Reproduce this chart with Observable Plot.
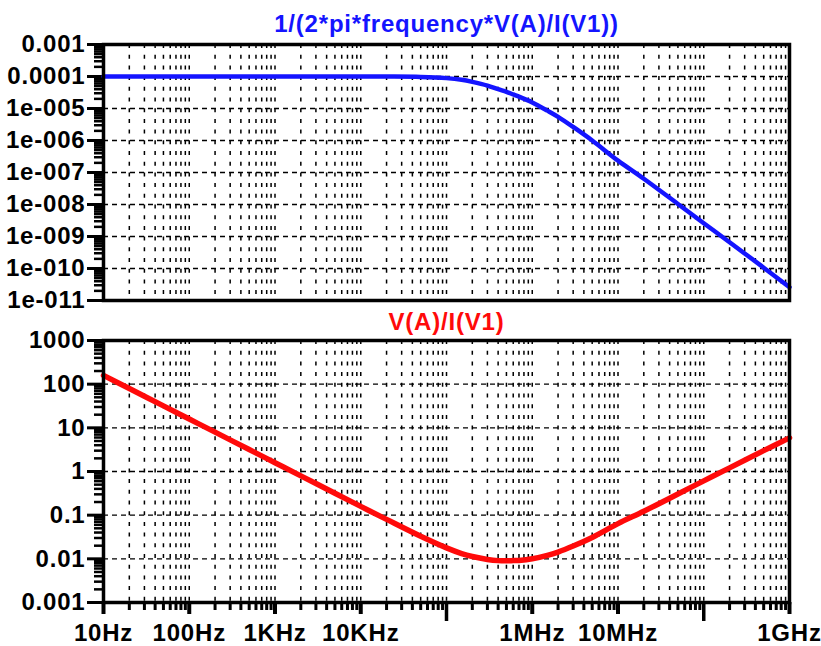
<!DOCTYPE html>
<html>
<head>
<meta charset="utf-8">
<script src="https://cdn.jsdelivr.net/npm/d3@7"></script>
<script src="https://cdn.jsdelivr.net/npm/@observablehq/plot@0.6"></script>
<style>
  html, body { margin: 0; padding: 0; background: #fff; }
  #wrap { position: relative; width: 821px; height: 646px; }
  #wrap svg { position: absolute; left: 0; top: 0; background: transparent; }
  #wrap svg text { letter-spacing: 0.8px; }
</style>
</head>
<body>
<div id="wrap"></div>
<script>
// ---- data ----
const freq = [10, 20, 50, 100, 200, 500, 1e3, 2e3, 5e3, 1e4, 2e4, 5e4, 1e5, 1.5e5, 2e5, 3e5, 4e5, 5e5, 6e5, 7e5,
              1e6, 1.5e6, 2e6, 3e6, 5e6, 1e7, 2e7, 5e7, 1e8, 2e8, 5e8, 1e9];
// V(A)/I(V1) (red, lower pane)
const impedance = [159, 79.6, 31.8, 15.9, 7.96, 3.18, 1.59, 0.796, 0.318, 0.159, 0.080, 0.0328, 0.0178, 0.0132, 0.0113,
                   0.0097, 0.0091, 0.0090, 0.0091, 0.0092, 0.0100, 0.0120, 0.0143, 0.0196, 0.0309, 0.064, 0.123, 0.305,
                   0.61, 1.21, 3.0, 5.9];
// 1/(2*pi*frequency*V(A)/I(V1)) (blue, upper pane)
const capacitance = [1.0e-4, 1.0e-4, 1.0e-4, 1.0e-4, 1.0e-4, 1.0e-4, 1.0e-4, 1.0e-4, 1.0e-4, 1.0e-4, 9.95e-5, 9.7e-5,
                     8.9e-5, 7.9e-5, 6.8e-5, 5.2e-5, 4.0e-5, 3.3e-5, 2.75e-5, 2.35e-5, 1.55e-5, 8.6e-6, 5.5e-6,
                     2.65e-6, 1.0e-6, 2.35e-7, 6.4e-8, 1.04e-8, 2.6e-9, 6.6e-10, 1.06e-10, 2.6e-11];

const topTitle = "1/(2*pi*frequency*V(A)/I(V1))";
const bottomTitle = "V(A)/I(V1)";

const topTicks = [1e-3, 1e-4, 1e-5, 1e-6, 1e-7, 1e-8, 1e-9, 1e-10, 1e-11];
const topTickLabels = ["0.001", "0.0001", "1e-005", "1e-006", "1e-007", "1e-008", "1e-009", "1e-010", "1e-011"];
const bottomTicks = [1000, 100, 10, 1, 0.1, 0.01, 0.001];
const bottomTickLabels = ["1000", "100", "10", "1", "0.1", "0.01", "0.001"];
const xTicks = [10, 100, 1e3, 1e4, 1e6, 1e7, 1e9];
const xTickLabels = ["10Hz", "100Hz", "1KHz", "10KHz", "1MHz", "10MHz", "1GHz"];
const xUnlabeled = [1e5, 1e8];

// ---- helpers ----
function minorsBetween(lo, hi) {
  const out = [];
  for (let e = Math.round(Math.log10(lo)); e < Math.round(Math.log10(hi)); e++) {
    for (let m = 2; m <= 9; m++) out.push(m * Math.pow(10, e));
  }
  return out;
}
function decadesBetween(lo, hi) {
  const out = [];
  for (let e = Math.round(Math.log10(lo)); e <= Math.round(Math.log10(hi)); e++) out.push(Math.pow(10, e));
  return out;
}
function labeler(ticks, labels) {
  return d => {
    let best = 0, bd = Infinity;
    ticks.forEach((t, i) => { const e = Math.abs(Math.log10(t) - Math.log10(d)); if (e < bd) { bd = e; best = i; } });
    return labels[best];
  };
}

const W = 821, H = 646;
const FS = 24;
const font = "'Liberation Sans', Arial, sans-serif";
const style = {fontFamily: font, fontWeight: "bold", fontSize: FS + "px", background: "transparent", overflow: "visible"};
const xDomain = [10, 1e9];
const xMinors = minorsBetween(10, 1e9);
const xGrid = decadesBetween(10, 1e9).concat(xMinors);
const topData = freq.map((f, i) => ({f, v: capacitance[i]}));
const botData = freq.map((f, i) => ({f, v: impedance[i]}));

const gridV = {stroke: "black", strokeWidth: 1.5, strokeDasharray: "4,6.7"};
const gridH = {stroke: "black", strokeWidth: 1.4, strokeDasharray: "5,4"};

function pane({marginTop, marginBottom, yDomain, yTicks, yLabels, data, color, title, titleY, lineWidth, xAxis}) {
  const yMinors = minorsBetween(yDomain[0], yDomain[1]);
  const yDec = decadesBetween(yDomain[0], yDomain[1]);
  const marks = [
    Plot.ruleX(xGrid, gridV),
    Plot.ruleY(yDec.slice(1, -1), gridH),
    Plot.axisY({ticks: yMinors, anchor: "left", label: null, tickSize: 9, strokeWidth: 2.5, text: null}),
    Plot.axisY({ticks: yTicks, anchor: "left", label: null, tickSize: 16, strokeWidth: 3, tickPadding: 2,
                tickFormat: labeler(yTicks, yLabels), fill: "#000", fontSize: FS, fontWeight: "bold"}),
    Plot.line(data, {x: "f", y: "v", stroke: color, strokeWidth: lineWidth, curve: "catmull-rom"}),
    Plot.frame({stroke: "black", strokeWidth: 3.5}),
    Plot.text([title], {frameAnchor: "top", dy: -(marginTop - titleY), text: d => d, fill: color,
                        fontSize: FS, fontWeight: "bold", lineAnchor: "middle"})
  ];
  if (xAxis) {
    marks.push(
      Plot.axisX({ticks: xMinors, anchor: "bottom", label: null, tickSize: 8, strokeWidth: 3, text: null}),
      Plot.axisX({ticks: xUnlabeled, anchor: "bottom", label: null, tickSize: 19, strokeWidth: 3.5, text: null}),
      Plot.axisX({ticks: xTicks, anchor: "bottom", label: null, tickSize: 12, strokeWidth: 4, tickPadding: 9,
                  tickFormat: labeler(xTicks, xTickLabels), fill: "#000", fontSize: FS, fontWeight: "bold"})
    );
  }
  return Plot.plot({
    width: W, height: H,
    marginLeft: 103, marginRight: 32, marginTop, marginBottom,
    style,
    x: {type: "log", domain: xDomain, axis: null, label: null},
    y: {type: "log", domain: yDomain, axis: null, label: null},
    marks
  });
}

const wrap = document.getElementById("wrap");
wrap.appendChild(pane({
  marginTop: 44, marginBottom: H - 300, yDomain: [1e-11, 1e-3], yTicks: topTicks, yLabels: topTickLabels,
  data: topData, color: "#1414ff", title: topTitle, titleY: 24, lineWidth: 4.5, xAxis: false
}));
wrap.appendChild(pane({
  marginTop: 340, marginBottom: H - 602, yDomain: [1e-3, 1e3], yTicks: bottomTicks, yLabels: bottomTickLabels,
  data: botData, color: "#ff0a0a", title: bottomTitle, titleY: 322, lineWidth: 5.5, xAxis: true
}));
</script>
</body>
</html>
